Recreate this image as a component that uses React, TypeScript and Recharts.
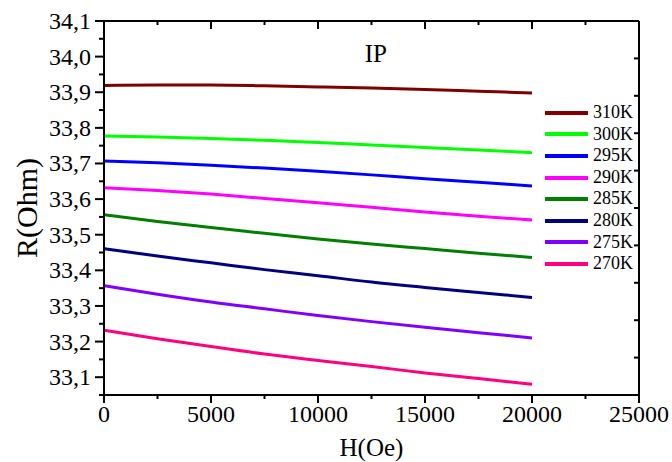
import React from "react";
import {
  LineChart,
  Line,
  XAxis,
  YAxis,
  Legend,
  ReferenceDot,
} from "recharts";

// H field (Oe) sample points
const fieldOe = [0, 2500, 5000, 7500, 10000, 12500, 15000, 17500, 20000];

// R (Ohm), per temperature
const r310 = [33.919, 33.92, 33.92, 33.918, 33.915, 33.912, 33.908, 33.903, 33.898];
const r300 = [33.777, 33.774, 33.77, 33.765, 33.759, 33.752, 33.745, 33.738, 33.73];
const r295 = [33.707, 33.702, 33.695, 33.687, 33.678, 33.668, 33.657, 33.647, 33.637];
const r290 = [33.632, 33.624, 33.614, 33.602, 33.59, 33.577, 33.564, 33.552, 33.541];
const r285 = [33.556, 33.537, 33.52, 33.504, 33.488, 33.474, 33.461, 33.448, 33.436];
const r280 = [33.461, 33.44, 33.421, 33.402, 33.385, 33.367, 33.352, 33.338, 33.324];
const r275 = [33.357, 33.333, 33.311, 33.292, 33.273, 33.256, 33.24, 33.225, 33.21];
const r270 = [33.232, 33.208, 33.186, 33.165, 33.147, 33.13, 33.112, 33.096, 33.08];

const series = [
  { name: "310K", color: "#800000", values: r310 },
  { name: "300K", color: "#00ff00", values: r300 },
  { name: "295K", color: "#0000ff", values: r295 },
  { name: "290K", color: "#ff00ff", values: r290 },
  { name: "285K", color: "#008000", values: r285 },
  { name: "280K", color: "#000080", values: r280 },
  { name: "275K", color: "#8000ff", values: r275 },
  { name: "270K", color: "#ff0080", values: r270 },
];

const xTicks = [0, 2500, 5000, 7500, 10000, 12500, 15000, 17500, 20000, 22500, 25000];
const yTicks = [
  33.05, 33.1, 33.15, 33.2, 33.25, 33.3, 33.35, 33.4, 33.45, 33.5, 33.55,
  33.6, 33.65, 33.7, 33.75, 33.8, 33.85, 33.9, 33.95, 34.0, 34.05, 34.1,
];
const rightTicks = [0, 1, 2, 3, 4, 5, 6, 7, 8, 9, 10];

const FONT = "'Liberation Serif', 'Times New Roman', serif";
const textStyle = { fontFamily: FONT };

const chartData = fieldOe.map((h, i) => {
  const row: Record<string, number> = { H: h };
  series.forEach((s) => {
    row[s.name] = s.values[i];
  });
  return row;
});

const isMajorX = (v: number) => v % 5000 === 0;
const isMajorY = (v: number) => Math.round(v * 100) % 10 === 0;

function BottomTick({ x, y, payload }: any) {
  const major = isMajorX(payload.value);
  return (
    <g>
      <line x1={x} x2={x} y1={y} y2={y + (major ? 8 : 4)} stroke="#000" strokeWidth={2} />
      {major && (
        <text x={x} y={y + 27} textAnchor="middle" fontSize={24} style={textStyle} fill="#000">
          {payload.value}
        </text>
      )}
    </g>
  );
}

function TopTick({ x, y, payload }: any) {
  const major = isMajorX(payload.value);
  return <line x1={x} x2={x} y1={y} y2={y + (major ? 8 : 4)} stroke="#000" strokeWidth={2} />;
}

function LeftTick({ x, y, payload }: any) {
  const major = isMajorY(payload.value);
  return (
    <g>
      <line x1={x} x2={x - (major ? 9 : 5)} y1={y} y2={y} stroke="#000" strokeWidth={2} />
      {major && (
        <text x={x - 13} y={y + 8} textAnchor="end" fontSize={24} style={textStyle} fill="#000">
          {payload.value.toFixed(1).replace(".", ",")}
        </text>
      )}
    </g>
  );
}

function RightTick({ x, y }: any) {
  return <line x1={x} x2={x - 5} y1={y} y2={y} stroke="#000" strokeWidth={2} />;
}

function LegendBox() {
  return (
    <div style={{ fontFamily: FONT, fontSize: 18, lineHeight: "21.6px", color: "#000" }}>
      {series.map((s) => (
        <div key={s.name} style={{ display: "flex", alignItems: "center", height: 21.6 }}>
          <span
            style={{
              display: "inline-block",
              width: 43,
              height: 4,
              background: s.color,
              marginRight: 5,
            }}
          />
          <span>{s.name}</span>
        </div>
      ))}
    </div>
  );
}

export default function App() {
  return (
    <div
      style={{
        position: "absolute",
        left: 0,
        top: 0,
        background: "#fff",
        fontFamily: FONT,
      }}
    >
      <LineChart
        width={672}
        height={462}
        data={chartData}
        margin={{ top: 20, right: 32, left: 0, bottom: 0 }}
      >
        <XAxis
          dataKey="H"
          type="number"
          domain={[0, 25000]}
          ticks={xTicks}
          interval={0}
          height={67}
          tickSize={0}
          tickMargin={0}
          tickLine={false}
          tick={<BottomTick />}
          axisLine={{ stroke: "#000", strokeWidth: 2 }}
          label={{
            value: "H(Oe)",
            position: "insideBottom",
            offset: 6,
            style: { fontFamily: FONT, fontSize: 25, fill: "#000" },
          }}
        />
        <XAxis
          xAxisId="top"
          orientation="top"
          dataKey="H"
          type="number"
          domain={[0, 25000]}
          allowDataOverflow
          ticks={xTicks}
          interval={0}
          height={1}
          tickSize={0}
          tickMargin={0}
          tickLine={false}
          tick={<TopTick />}
          axisLine={{ stroke: "#000", strokeWidth: 2 }}
        />
        <YAxis
          type="number"
          domain={[33.05, 34.1]}
          allowDataOverflow
          ticks={yTicks}
          interval={0}
          width={104}
          tickSize={0}
          tickMargin={0}
          tickLine={false}
          tick={<LeftTick />}
          axisLine={{ stroke: "#000", strokeWidth: 2 }}
          label={{
            value: "R(Ohm)",
            angle: -90,
            position: "insideLeft",
            offset: 26,
            style: { fontFamily: FONT, fontSize: 30, fill: "#000", textAnchor: "middle" },
          }}
        />
        <YAxis
          yAxisId="right"
          orientation="right"
          type="number"
          domain={[0, 10]}
          allowDataOverflow
          ticks={rightTicks}
          interval={0}
          width={1}
          tickSize={0}
          tickMargin={0}
          tickLine={false}
          tick={<RightTick />}
          axisLine={{ stroke: "#000", strokeWidth: 2 }}
        />
        {series.map((s) => (
          <Line
            key={s.name}
            type="monotone"
            dataKey={s.name}
            stroke={s.color}
            strokeWidth={3}
            dot={false}
            activeDot={false}
            isAnimationActive={false}
          />
        ))}
        <ReferenceDot
          x={12700}
          y={34.01}
          r={0}
          fill="none"
          stroke="none"
          label={{
            value: "IP",
            position: "center",
            style: { fontFamily: FONT, fontSize: 25, fill: "#000" },
          }}
        />
        <Legend
          layout="horizontal"
          verticalAlign="middle"
          align="center"
          content={<LegendBox />}
          wrapperStyle={{ position: "absolute", left: 545, top: 102, width: 110 }}
        />
      </LineChart>
    </div>
  );
}
